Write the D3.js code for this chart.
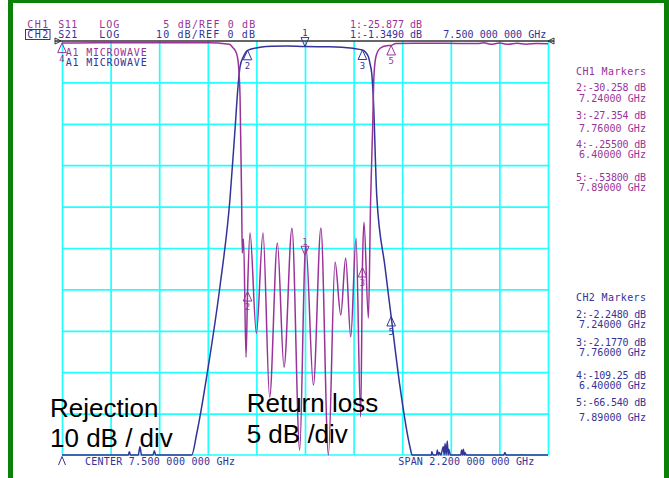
<!DOCTYPE html>
<html><head><meta charset="utf-8">
<script src="https://cdn.jsdelivr.net/npm/d3@7"></script>
<style>body{margin:0;background:#fff}svg{display:block}</style>
</head><body>
<script>
// ---- data (frequency GHz, dB) ----
const s11Freq = [6.40,6.55,6.70,6.85,7.00,7.062,7.146,7.160,7.175,7.183,7.194,7.198,7.206,7.213,7.216,7.219,7.222,7.233,7.240,7.251,7.280,7.310,7.340,7.375,7.405,7.441,7.476,7.500,7.504,7.538,7.572,7.606,7.636,7.662,7.684,7.707,7.731,7.752,7.760,7.767,7.787,7.797,7.806,7.812,7.821,7.840,7.870,7.890,7.912,8.00,8.10,8.20,8.28,8.31,8.34,8.38,8.42,8.46,8.50,8.55,8.60];
const s11dB   = [-0.255,-0.22,-0.20,-0.22,-0.20,-0.21,-0.36,-0.42,-0.85,-1.09,-1.93,-2.66,-6.73,-18.8,-25.6,-24.3,-23.9,-38.2,-30.258,-23.2,-35.3,-23.2,-43.0,-24.4,-39.4,-22.6,-49.4,-25.877,-24.7,-41.55,-22.58,-51,-26.7,-33.1,-26.2,-35.75,-23.8,-45.4,-27.354,-21.9,-33.45,-19.2,-10.7,-4.3,-1.9,-0.88,-0.56,-0.538,-0.30,-0.28,-0.28,-0.30,-0.30,-0.22,-0.40,-0.25,-0.40,-0.28,-0.38,-0.30,-0.32];

const s21Freq = [6.40,6.50,6.60,6.700,6.705,6.710,6.745,6.753,6.760,6.812,6.818,6.824,6.90,6.975,6.987,7.010,7.062,7.115,7.160,7.183,7.198,7.206,7.221,7.240,7.296,7.35,7.42,7.500,7.613,7.717,7.760,7.787,7.794,7.802,7.809,7.825,7.862,7.890,7.930,7.975,7.985,8.05,8.072,8.074,8.080,8.095,8.099,8.104,8.108,8.115,8.126,8.130,8.134,8.139,8.144,8.148,8.151,8.158,8.205,8.209,8.213,8.217,8.221,8.224,8.230,8.40,8.405,8.410,8.478,8.481,8.485,8.60];
const s21dB   = [-109.25,-107,-106,-106,-99.2,-106,-105,-98.0,-106,-106,-99.0,-106,-107,-106,-100.4,-94.8,-78.7,-59.3,-38.4,-21.5,-10.2,-6.2,-3.8,-2.248,-1.53,-1.25,-1.2,-1.349,-1.37,-1.77,-2.177,-3.8,-5.4,-7.8,-13.4,-37.6,-54.5,-66.54,-83.5,-98,-104,-106,-104,-99.2,-106,-105,-98.8,-104,-99.4,-105,-98.0,-103,-97.2,-103,-96.6,-104,-98.6,-106,-106,-98.8,-104,-98.6,-104,-99.4,-106,-106,-99.4,-106,-106,-99.9,-106,-107];

const markerNums  = [1,2,3,4,5];
const markerFreqs = [7.50,7.24,7.76,6.40,7.89];
const ch1MarkerDB = [-25.877,-30.258,-27.354,-0.255,-0.538];
const ch2MarkerDB = [-1.349,-2.248,-2.177,-109.25,-66.54];
const ch1Readout = ["2:-30.258 dB","7.24000 GHz","3:-27.354 dB","7.76000 GHz","4:-.25500 dB","6.40000 GHz","5:-.53800 dB","7.89000 GHz"];
const ch2Readout = ["2:-2.2480 dB","7.24000 GHz","3:-2.1770 dB","7.76000 GHz","4:-109.25 dB","6.40000 GHz","5:-66.540 dB","7.89000 GHz"];

const W=669,H=478;
const C1="#993399", C2="#333399", GRID="#22ffff";
const MONO="'DejaVu Sans Mono', monospace";

const svg=d3.select("body").append("svg").attr("width",W).attr("height",H);
svg.append("rect").attr("width",W).attr("height",H).attr("fill","#fff");

const x=d3.scaleLinear().domain([6.4,8.6]).range([62,548]);
const y1=d3.scaleLinear().domain([-50,0]).range([455,41]).clamp(true);
const y2=d3.scaleLinear().domain([-100,0]).range([455,41]).clamp(true);

// grid
const gx=svg.append("g").attr("transform","translate(0,455)")
  .call(d3.axisBottom(x).tickValues(d3.range(11).map(i=>6.4+i*0.22)).tickSize(-414).tickFormat(""));
const gy=svg.append("g").attr("transform","translate(62,0)")
  .call(d3.axisLeft(y1).tickValues(d3.range(-45,0,5)).tickSize(-486).tickFormat(""));
[gx,gy].forEach(g=>{g.select(".domain").remove();g.selectAll("line").attr("stroke",GRID).attr("stroke-width",1.7);});
svg.append("line").attr("x1",62).attr("x2",548).attr("y1",455).attr("y2",455).attr("stroke",GRID).attr("stroke-width",1.7);

// reference line
svg.append("line").attr("x1",55).attr("x2",554).attr("y1",y1(0)).attr("y2",y1(0)).attr("stroke","#333").attr("stroke-width",1.3);
svg.append("path").attr("d",`M55,38L61,41L55,44Z`).attr("fill","none").attr("stroke","#333").attr("stroke-width",1);
svg.append("path").attr("d",`M554,38L548,41L554,44Z`).attr("fill","none").attr("stroke","#333").attr("stroke-width",1);

// traces
const line2=d3.line().x((d,i)=>x(s21Freq[i])).y(d=>y2(d)).curve(d3.curveMonotoneX);
const line1=d3.line().x((d,i)=>x(s11Freq[i])).y(d=>y1(d)).curve(d3.curveMonotoneX);
svg.append("path").attr("d",line2(s21dB)).attr("fill","none").attr("stroke",C2).attr("stroke-width",1.5);
svg.append("path").attr("d",line1(s11dB)).attr("fill","none").attr("stroke",C1).attr("stroke-width",1.5);

// markers
function marker(n,px,py,col,active){
  const g=svg.append("g");
  if(active){
    g.append("path").attr("d",`M${px},${py}L${px-4},${py-9}L${px+4},${py-9}Z`).attr("fill","none").attr("stroke",col).attr("stroke-width",1);
    g.append("text").attr("x",px).attr("y",py-10.5).attr("text-anchor","middle").attr("fill",col)
     .attr("font-family",MONO).attr("font-size",9).text(n);
  } else {
    g.append("path").attr("d",`M${px},${py}L${px-4.3},${py+9.5}L${px+4.3},${py+9.5}Z`).attr("fill","none").attr("stroke",col).attr("stroke-width",1);
    g.append("text").attr("x",px).attr("y",py+18.5).attr("text-anchor","middle").attr("fill",col)
     .attr("font-family",MONO).attr("font-size",9).text(n);
  }
}
markerNums.forEach((n,i)=>{
  marker(n,x(markerFreqs[i]),y1(ch1MarkerDB[i]),C1,n===1);
  if(ch2MarkerDB[i]<-100){
    const px=x(markerFreqs[i]);
    svg.append("path").attr("d",`M${px-3.5},465L${px},456.5L${px+3.5},465`).attr("fill","none").attr("stroke",C2).attr("stroke-width",1);
  } else marker(n,x(markerFreqs[i]),y2(ch2MarkerDB[i]),C2,n===1);
});

// text helper
function T(s,px,py,col,len,anchor,size){
  const t=svg.append("text").attr("x",px).attr("y",py).attr("fill",col)
    .attr("font-family",MONO).attr("font-size",size||10).attr("text-anchor",anchor||"start").text(s);
  if(len) t.attr("textLength",len).attr("lengthAdjust","spacing");
  return t;
}
// header
T("CH1",27.3,28,C1,21); T("S11",58.3,28,C1,19); T("LOG",99.3,28,C1,20); T("5 dB/REF 0 dB",163.3,28,C1,92);
T("CH2",27.3,37.7,C2,21); T("S21",58.3,37.7,C2,19); T("LOG",99.3,37.7,C2,20); T("10 dB/REF 0 dB",156,37.7,C2,99);
svg.append("rect").attr("x",25.5).attr("y",29.5).attr("width",24.5).attr("height",10).attr("fill","none").attr("stroke",C2).attr("stroke-width",1);
T("1:-25.877 dB",350,28,C1,72);
T("1:-1.3490 dB",350,37.7,C2,72);
T("7.500 000 000 GHz",443.3,37.7,C2,103);
T("A1 MICROWAVE",65.7,56.3,C1,81);
T("A1 MICROWAVE",65.7,66.3,C2,81);
// bottom
T("CENTER 7.500 000 000 GHz",85,465,C2,150);
T("SPAN 2.200 000 000 GHz",398.3,465,C2,136);
// right panel
T("CH1 Markers",646,75,C1,70,"end");
const ch1Y=[91,101.5,119.3,131.7,148,158,180.7,191];
ch1Readout.forEach((s,i)=>T(s,646,ch1Y[i],C1,i%2?67:70,"end"));
T("CH2 Markers",646,300.7,C2,70,"end");
const ch2Y=[317.7,328.3,346,356,379.3,389.3,406,421];
ch2Readout.forEach((s,i)=>T(s,646,ch2Y[i],C2,i%2?67:70,"end"));

// annotations
const big=(s,px,py)=>svg.append("text").attr("x",px).attr("y",py).attr("fill","#000")
  .attr("font-family","'Liberation Sans', Arial, sans-serif").attr("font-size",26).text(s);
big("Rejection",50,416.5); big("10 dB / div",50,446.5);
big("Return loss",246.7,412); big("5 dB /div",246.7,442.5);

// green frame
const GR="#0a820a";
svg.append("rect").attr("x",8).attr("y",0).attr("width",5).attr("height",H).attr("fill",GR);
svg.append("rect").attr("x",8).attr("y",0).attr("width",W-8).attr("height",3).attr("fill",GR);
svg.append("rect").attr("x",664).attr("y",0).attr("width",5).attr("height",H).attr("fill",GR);
</script>
</body></html>
